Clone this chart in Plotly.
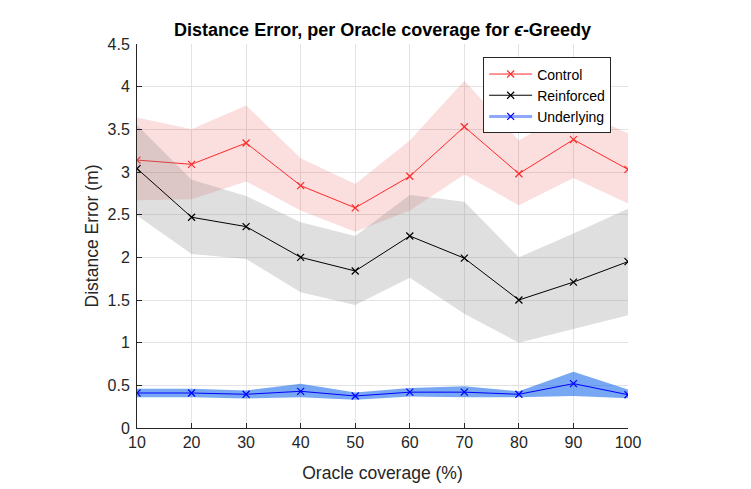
import plotly.graph_objects as go

# Oracle coverage levels (%)
coverage = [10, 20, 30, 40, 50, 60, 70, 80, 90, 100]

# Control: mean and band
control_mean = [3.14, 3.09, 3.34, 2.84, 2.58, 2.95, 3.53, 2.98, 3.38, 3.03]
control_upper = [3.64, 3.50, 3.78, 3.16, 2.86, 3.37, 4.07, 3.37, 3.75, 3.45]
control_lower = [2.67, 2.68, 2.89, 2.55, 2.30, 2.55, 2.97, 2.61, 2.93, 2.63]

# Reinforced: mean and band
reinf_mean = [3.04, 2.47, 2.36, 2.00, 1.84, 2.25, 1.99, 1.50, 1.71, 1.95]
reinf_upper = [3.55, 2.91, 2.72, 2.41, 2.25, 2.73, 2.65, 2.00, 2.28, 2.57]
reinf_lower = [2.49, 2.04, 1.98, 1.59, 1.44, 1.76, 1.34, 1.00, 1.16, 1.32]

# Underlying: mean and band
under_mean = [0.41, 0.41, 0.395, 0.43, 0.375, 0.42, 0.42, 0.395, 0.52, 0.39]
under_upper = [0.46, 0.46, 0.44, 0.52, 0.415, 0.47, 0.49, 0.43, 0.66, 0.45]
under_lower = [0.36, 0.36, 0.345, 0.36, 0.33, 0.37, 0.36, 0.36, 0.375, 0.35]

FONT = "Liberation Sans, Arial, sans-serif"
TXT = "#262626"


def band(upper, lower, color):
    # closed polygon: upper edge forward, lower edge back
    return go.Scatter(
        x=coverage + coverage[::-1],
        y=upper + lower[::-1],
        fill="toself", fillcolor=color,
        line=dict(width=0), mode="lines",
        hoverinfo="skip", showlegend=False,
    )


def mean_line(y, color, name, legend=True):
    return go.Scatter(
        x=coverage, y=y, mode="lines+markers", name=name,
        line=dict(color=color, width=1),
        marker=dict(symbol="x-thin", size=7, line=dict(color=color, width=1.2)),
        showlegend=legend,
    )


fig = go.Figure()
fig.add_trace(band(control_upper, control_lower, "rgba(230,50,50,0.16)"))
fig.add_trace(mean_line(control_mean, "#ff2a2a", "Control"))
fig.add_trace(band(reinf_upper, reinf_lower, "rgba(128,128,128,0.25)"))
fig.add_trace(mean_line(reinf_mean, "#000000", "Reinforced"))
fig.add_trace(band(under_upper, under_lower, "rgba(30,110,235,0.6)"))
fig.add_trace(mean_line(under_mean, "#0000ff", "Underlying", legend=False))

# legend entry for Underlying (light thick line with blue cross)
fig.add_trace(go.Scatter(
    x=[None], y=[None], mode="lines+markers", name="Underlying",
    line=dict(color="#8fa8ff", width=3),
    marker=dict(symbol="x-thin", size=7, line=dict(color="#0000ff", width=1.2)),
))

fig.update_layout(
    width=751, height=489,
    margin=dict(l=129, r=131, t=36, b=69),
    paper_bgcolor="white", plot_bgcolor="white",
    font=dict(family=FONT, color=TXT, size=16),
    title=dict(
        text="<b>Distance Error, per Oracle coverage for <i>ϵ</i>-Greedy</b>",
        x=0.5, xref="paper", xanchor="center",
        y=0.955, yanchor="middle",
        font=dict(size=18, color="black"),
    ),
    legend=dict(
        x=0.705, y=0.965, xanchor="left", yanchor="top",
        bgcolor="white", bordercolor=TXT, borderwidth=1,
        font=dict(size=14, color="black"),
        tracegroupgap=0, itemwidth=43,
    ),
    xaxis=dict(
        range=[10, 100], dtick=10, tick0=10,
        showgrid=True, gridcolor="#e3e3e3", gridwidth=1,
        showline=True, linecolor=TXT, linewidth=1,
        ticks="inside", ticklen=5, tickcolor=TXT,
        zeroline=False,
        title=dict(text="Oracle coverage (%)", font=dict(size=17.5), standoff=16),
    ),
    yaxis=dict(
        range=[0, 4.5], dtick=0.5, tick0=0,
        showgrid=True, gridcolor="#e3e3e3", gridwidth=1,
        showline=True, linecolor=TXT, linewidth=1,
        ticks="inside", ticklen=5, tickcolor=TXT,
        ticklabelstandoff=3,
        zeroline=False,
        title=dict(text="Distance Error (m)", font=dict(size=17.5), standoff=4),
    ),
)

fig.write_html("out.html")
